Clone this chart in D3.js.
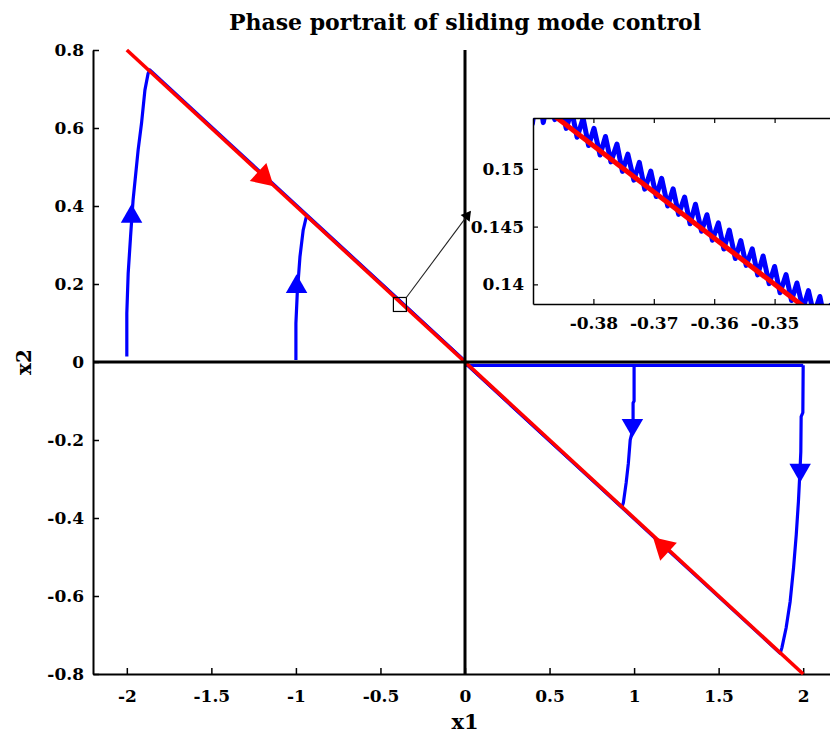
<!DOCTYPE html>
<html><head><meta charset="utf-8">
<script src="https://cdn.jsdelivr.net/npm/d3@7"></script>
<style>html,body{margin:0;padding:0;background:#fff;}svg{display:block;}</style>
</head><body>
<script>
// ---------- data ----------
const titleText = "Phase portrait of sliding mode control";
const xLabel = "x1", yLabel = "x2";
const xTicks = [-2, -1.5, -1, -0.5, 0, 0.5, 1, 1.5, 2];
const xTickLabels = ["-2", "-1.5", "-1", "-0.5", "0", "0.5", "1", "1.5", "2"];
const yTicks = [-0.8, -0.6, -0.4, -0.2, 0, 0.2, 0.4, 0.6, 0.8];
const yTickLabels = ["-0.8", "-0.6", "-0.4", "-0.2", "0", "0.2", "0.4", "0.6", "0.8"];
const insetXTicks = [-0.38, -0.37, -0.36, -0.35];
const insetXTickLabels = ["-0.38", "-0.37", "-0.36", "-0.35"];
const insetYTicks = [0.14, 0.145, 0.15];
const insetYTickLabels = ["0.14", "0.145", "0.15"];

// sliding surface s = x2 + 0.4 x1 = 0
const surface = [[-2, 0.8], [2, -0.8]];

// blue trajectories (reaching phase, then sliding to origin)
const traj1 = [[-2.0, 0.014], [-2.0, 0.125], [-1.992, 0.227], [-1.978, 0.321], [-1.963, 0.415],
  [-1.933, 0.544], [-1.913, 0.612], [-1.893, 0.697], [-1.874, 0.74], [-1.864, 0.749],
  [-1.4, 0.563], [-0.9, 0.363], [-0.4, 0.163], [0, 0.002]];
const traj2 = [[-1.0, 0.005], [-1.0, 0.099], [-0.992, 0.176], [-0.976, 0.27], [-0.957, 0.338],
  [-0.937, 0.375], [-0.5, 0.202], [0, 0.002]];
const trajBase = [[0.0, -0.0085], [2.0, -0.0085]];
const traj3 = [[1.0, -0.0085], [1.0, -0.1], [0.994, -0.105], [0.994, -0.17], [0.977, -0.2],
  [0.966, -0.26], [0.953, -0.31], [0.937, -0.36], [0.928, -0.372], [0.5, -0.202], [0, -0.002]];
const traj4 = [[2.0, -0.0085], [1.998, -0.13], [1.988, -0.14], [1.986, -0.23], [1.982, -0.27],
  [1.972, -0.357], [1.959, -0.443], [1.943, -0.528], [1.923, -0.614], [1.899, -0.682],
  [1.874, -0.733], [1.864, -0.747], [1.2, -0.482], [0.6, -0.242], [0, -0.002]];

// direction arrows on the trajectories
const blueArrows = [[-1.972, 0.373, "up"], [-0.996, 0.193, "up"], [0.99, -0.162, "down"], [1.982, -0.277, "down"]];
const redArrows = [[-1.193, 0.475, "down"], [1.173, -0.474, "up"]];

// zoom marker and pointer
const zoomBoxCenter = [-0.385, 0.1475];
const pointer = [[-0.349, 0.164], [0.03, 0.385]];

// inset: chattering about the sliding line
const insetBlue = [
  [-0.3920, 0.15650], [-0.3910, 0.15800], [-0.3901, 0.15390], [-0.3892, 0.15728], [-0.3883, 0.15400],
  [-0.3873, 0.15662], [-0.3864, 0.15426], [-0.3855, 0.15575], [-0.3845, 0.15350], [-0.3836, 0.15504],
  [-0.3827, 0.15274], [-0.3817, 0.15438], [-0.3808, 0.15202], [-0.3799, 0.15351], [-0.3789, 0.15120],
  [-0.3780, 0.15280], [-0.3771, 0.15060], [-0.3761, 0.15214], [-0.3752, 0.14978], [-0.3743, 0.15127],
  [-0.3733, 0.14902], [-0.3724, 0.15056], [-0.3715, 0.14824], [-0.3705, 0.14980], [-0.3696, 0.14760],
  [-0.3687, 0.14918], [-0.3677, 0.14678], [-0.3668, 0.14827], [-0.3659, 0.14606], [-0.3649, 0.14756],
  [-0.3640, 0.14524], [-0.3631, 0.14694], [-0.3621, 0.14460], [-0.3612, 0.14603], [-0.3603, 0.14382],
  [-0.3593, 0.14532], [-0.3584, 0.14306], [-0.3575, 0.14470], [-0.3565, 0.14224], [-0.3556, 0.14379],
  [-0.3547, 0.14164], [-0.3537, 0.14308], [-0.3528, 0.14082], [-0.3519, 0.14246], [-0.3509, 0.14006],
  [-0.3500, 0.14155], [-0.3491, 0.13928], [-0.3481, 0.14084], [-0.3472, 0.13860], [-0.3463, 0.14012],
  [-0.3453, 0.13790], [-0.3444, 0.13946], [-0.3435, 0.13740], [-0.3425, 0.13895], [-0.3416, 0.13660],
  [-0.3407, 0.13820], [-0.3397, 0.13588]];
const insetRed = [[-0.395, 0.158], [-0.335, 0.134]];

// ---------- drawing ----------
const W = 830, H = 742;
const FONT = "'DejaVu Serif', serif";
const svg = d3.select("body").append("svg").attr("width", W).attr("height", H)
  .style("font-family", FONT);

const x = d3.scaleLinear().domain([-2.2, 2.2]).range([93, 837]);
const y = d3.scaleLinear().domain([-0.8, 0.8]).range([674, 50]);
const line = d3.line().x(d => x(d[0])).y(d => y(d[1]));

svg.append("defs").append("clipPath").attr("id", "mainclip")
  .append("rect").attr("x", 93).attr("y", 44).attr("width", 760).attr("height", 636);

// title
svg.append("text").attr("x", 465).attr("y", 30).attr("text-anchor", "middle")
  .style("font-size", "22px").style("font-weight", "bold").text(titleText);

// axes
const yAxis = d3.axisLeft(y).tickValues(yTicks).tickFormat((d, i) => yTickLabels[i])
  .tickSizeInner(-6).tickSizeOuter(0).tickPadding(9);
const xAxis = d3.axisBottom(x).tickValues(xTicks).tickFormat((d, i) => xTickLabels[i])
  .tickSizeInner(-6).tickSizeOuter(0).tickPadding(16);

const gy = svg.append("g").attr("transform", `translate(${x(-2.2)},0)`).call(yAxis);
const gx = svg.append("g").attr("transform", `translate(0,${y(-0.8)})`).call(xAxis);
[gx, gy].forEach(g => {
  g.selectAll("text").style("font-family", FONT).style("font-size", "17px")
    .style("font-weight", "bold").attr("fill", "#000");
  g.select(".domain").attr("stroke", "#000").attr("stroke-width", 2);
  g.selectAll(".tick line").attr("stroke", "#000").attr("stroke-width", 1.5);
});

svg.append("text").attr("x", 465).attr("y", 729).attr("text-anchor", "middle")
  .style("font-size", "21px").style("font-weight", "bold").text(xLabel);
svg.append("text").attr("transform", `translate(31,${y(0)}) rotate(-90)`).attr("text-anchor", "middle")
  .style("font-size", "20px").style("font-weight", "bold").text(yLabel);

const plot = svg.append("g").attr("clip-path", "url(#mainclip)");

// blue trajectories
[traj1, traj2, trajBase, traj3, traj4].forEach(t => {
  plot.append("path").datum(t).attr("d", line).attr("fill", "none")
    .attr("stroke", "#0000ff").attr("stroke-width", 3.2).attr("stroke-linejoin", "round");
});
// red sliding line
plot.append("path").datum(surface).attr("d", line).attr("fill", "none")
  .attr("stroke", "#ff0000").attr("stroke-width", 3.6);

// black coordinate lines
plot.append("path").datum([[0, -0.8], [0, 0.8]]).attr("d", line)
  .attr("stroke", "#000").attr("stroke-width", 3);
plot.append("path").datum([[-2.2, 0], [2.2, 0]]).attr("d", line)
  .attr("stroke", "#000").attr("stroke-width", 3);

// arrows
const tri = d3.symbol().type(d3.symbolTriangle);
blueArrows.forEach(a => {
  plot.append("path").attr("d", tri.size(200)())
    .attr("transform", `translate(${x(a[0])},${y(a[1])}) rotate(${a[2] === "up" ? 0 : 180})`)
    .attr("fill", "#0000ff");
});
const sx = x(surface[1][0]) - x(surface[0][0]), sy = y(surface[1][1]) - y(surface[0][1]);
const angDown = Math.atan2(sy, sx) * 180 / Math.PI + 90;
redArrows.forEach(a => {
  plot.append("path").attr("d", tri.size(260)())
    .attr("transform", `translate(${x(a[0])},${y(a[1])}) rotate(${a[2] === "down" ? angDown : angDown + 180})`)
    .attr("fill", "#ff0000");
});

// zoom marker and pointer
svg.append("rect").attr("x", x(zoomBoxCenter[0]) - 6.5).attr("y", y(zoomBoxCenter[1]) - 7)
  .attr("width", 13).attr("height", 14).attr("fill", "none").attr("stroke", "#000").attr("stroke-width", 1.2);
svg.append("path").datum(pointer).attr("d", line).attr("stroke", "#222").attr("stroke-width", 1.1);
const pdx = x(pointer[1][0]) - x(pointer[0][0]), pdy = y(pointer[1][1]) - y(pointer[0][1]);
const pang = Math.atan2(pdy, pdx) * 180 / Math.PI + 90;
svg.append("path").attr("d", d3.symbol().type(d3.symbolTriangle).size(55)())
  .attr("transform", `translate(${x(pointer[1][0]) - 3},${y(pointer[1][1]) + 4}) rotate(${pang})`)
  .attr("fill", "#000");

// ---------- inset ----------
const ix = d3.scaleLinear().domain([-0.39, -0.34]).range([533, 835]);
const iy = d3.scaleLinear().domain([0.1383, 0.1544]).range([304, 118]);
const iline = d3.line().x(d => ix(d[0])).y(d => iy(d[1]));
const inset = svg.append("g");
inset.append("rect").attr("x", 533).attr("y", 118).attr("width", 302).attr("height", 186).attr("fill", "#fff");
svg.select("defs").append("clipPath").attr("id", "insetclip")
  .append("rect").attr("x", 533).attr("y", 118).attr("width", 302).attr("height", 186);
const ip = inset.append("g").attr("clip-path", "url(#insetclip)");
ip.append("path").datum(insetBlue).attr("d", iline).attr("fill", "none")
  .attr("stroke", "#0000ff").attr("stroke-width", 5).attr("stroke-linejoin", "round")
  .attr("stroke-linecap", "round");
ip.append("path").datum(insetRed).attr("d", iline).attr("fill", "none")
  .attr("stroke", "#ff0000").attr("stroke-width", 5);

const iyAxis = d3.axisLeft(iy).tickValues(insetYTicks).tickFormat((d, i) => insetYTickLabels[i])
  .tickSizeInner(-5).tickSizeOuter(0).tickPadding(9);
const ixAxis = d3.axisBottom(ix).tickValues(insetXTicks).tickFormat((d, i) => insetXTickLabels[i])
  .tickSizeInner(-5).tickSizeOuter(0).tickPadding(13);
const ixTop = d3.axisTop(ix).tickValues(insetXTicks).tickFormat("").tickSizeInner(-5).tickSizeOuter(0);
const g1 = inset.append("g").attr("transform", "translate(533,0)").call(iyAxis);
const g2 = inset.append("g").attr("transform", "translate(0,304)").call(ixAxis);
const g3 = inset.append("g").attr("transform", "translate(0,118)").call(ixTop);
[g1, g2, g3].forEach(g => {
  g.selectAll("text").style("font-family", FONT).style("font-size", "17px")
    .style("font-weight", "bold").attr("fill", "#000");
  g.select(".domain").attr("stroke", "#000").attr("stroke-width", 1.5);
  g.selectAll(".tick line").attr("stroke", "#000").attr("stroke-width", 1.2);
});
</script>
</body></html>
